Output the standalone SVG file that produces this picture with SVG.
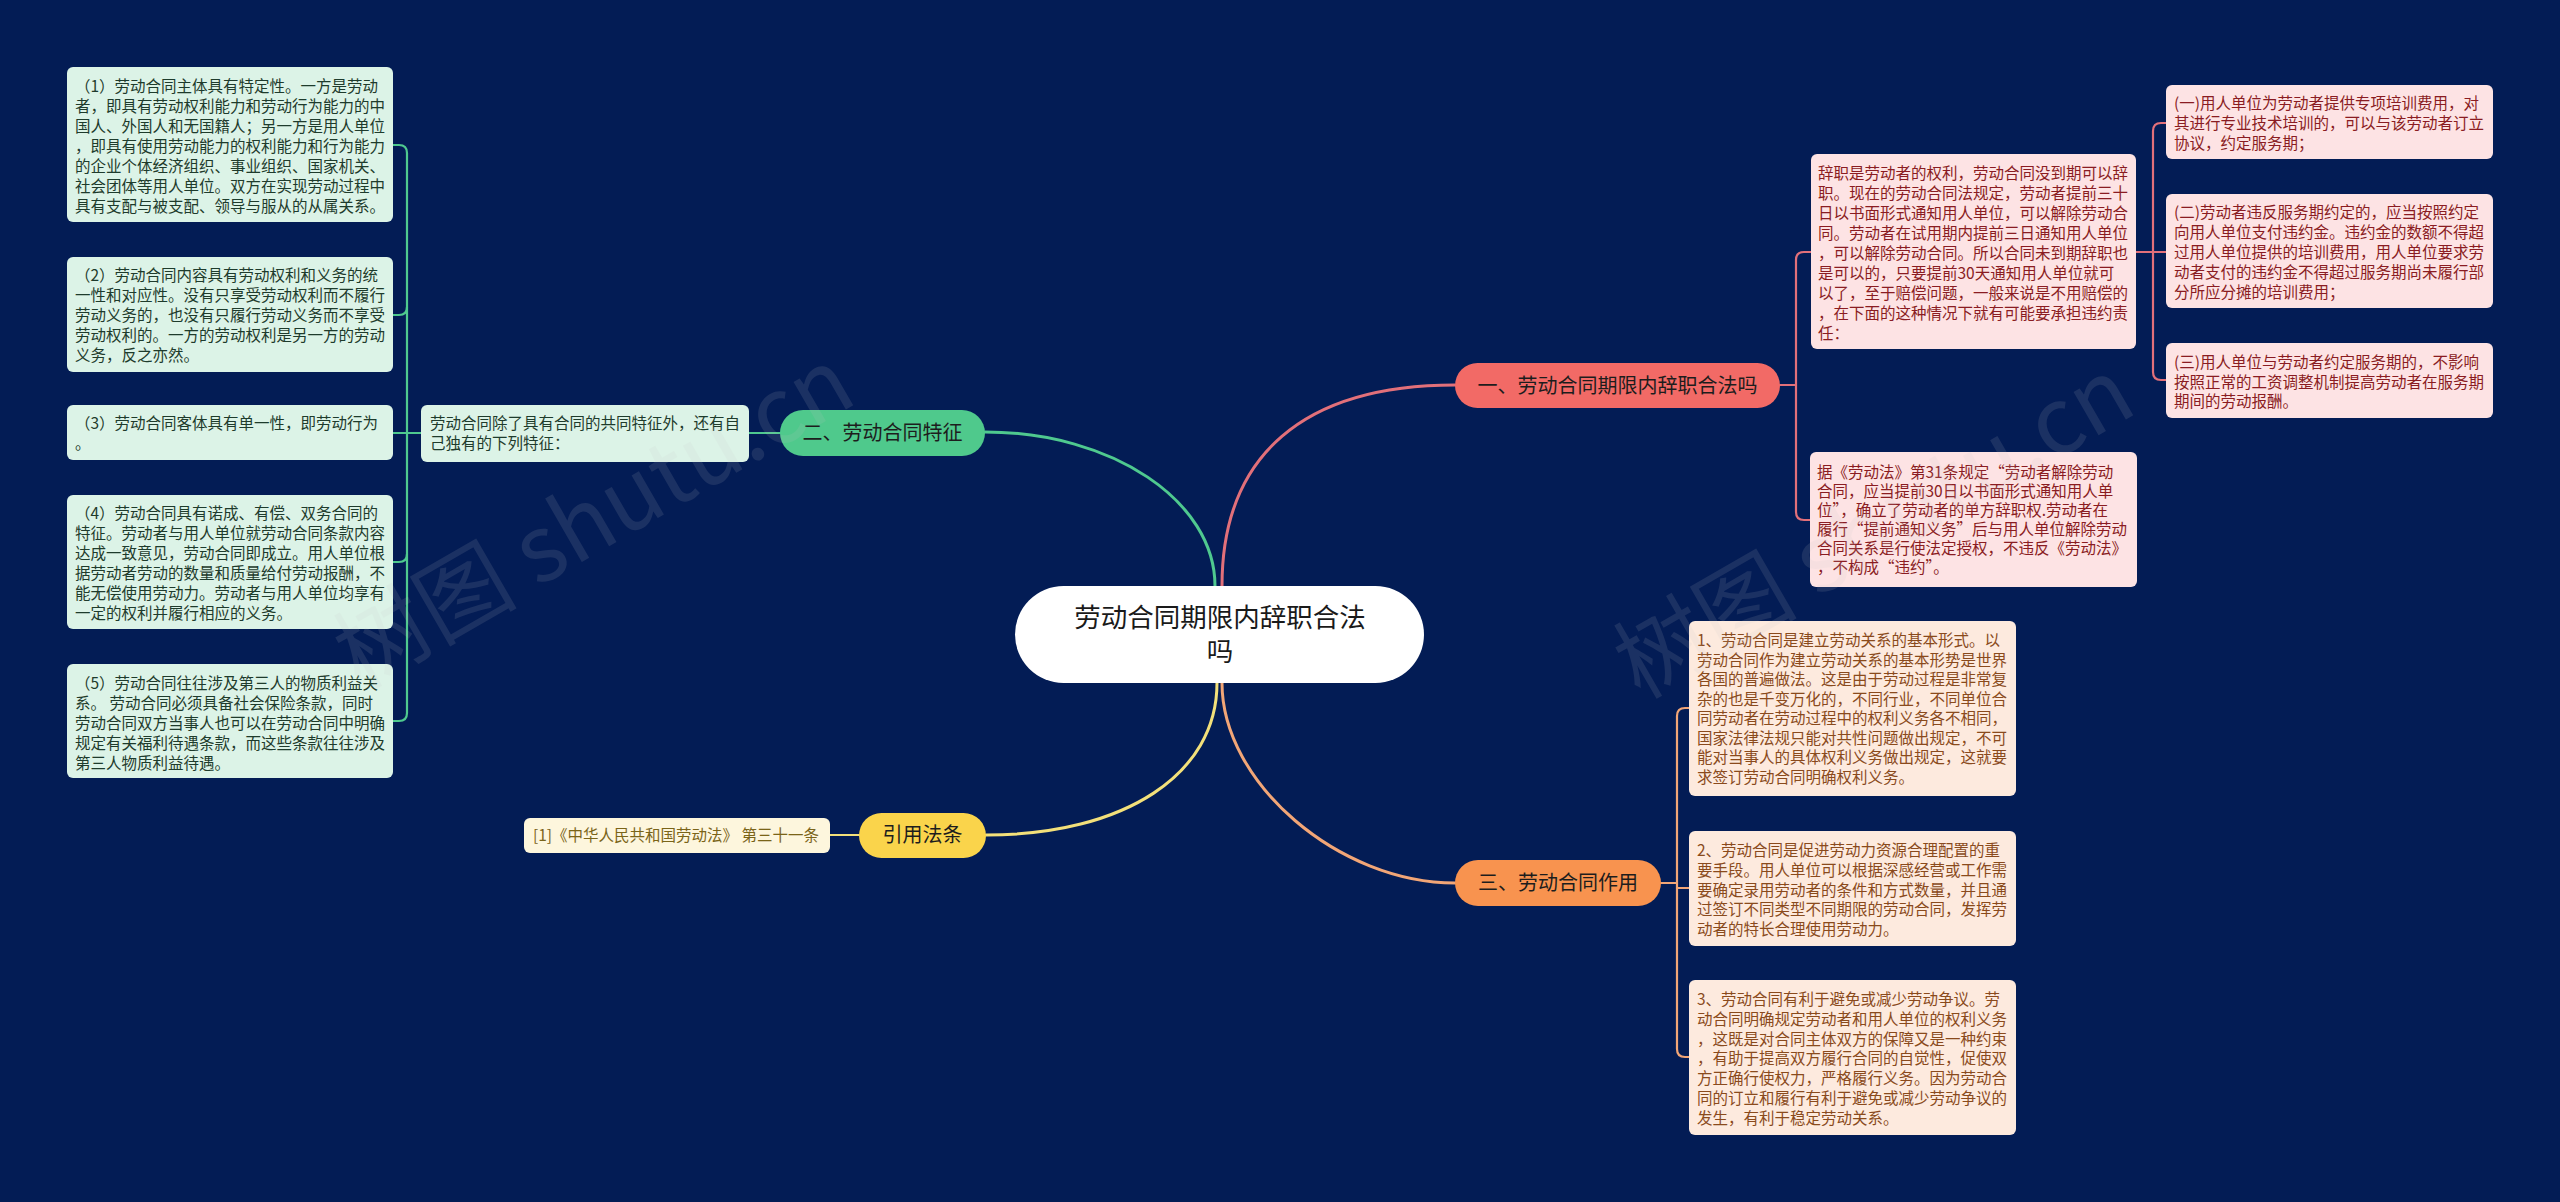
<svg xmlns="http://www.w3.org/2000/svg" width="2560" height="1202" viewBox="0 0 2560 1202">
<style>
text{font-family:"Noto Sans CJK SC","Noto Sans",sans-serif}
.c{fill:none;stroke-linecap:round;stroke-linejoin:round}
.cg{stroke:#4fc98f}
.cr{stroke:#e2707a}
.cy{stroke:#f3e07a}
.co{stroke:#f2a677}
.main{stroke-width:3}
.sub{stroke-width:2.2}
.t{font-size:15.5px}
.tg{fill:#1e3b2c}
.tr{fill:#8a1c22}
.to{fill:#8a4a1c}
.ty{fill:#7a6418}
.bg{fill:#dcf3e7}
.br{fill:#fde3e4}
.bo{fill:#fdeade}
.by{fill:#fdf6dd}
.nt{font-size:20px;fill:#1d1d1d;text-anchor:middle}
.wm{font-size:92px;fill:#c8c8c8;opacity:0.12}
</style>
<rect width="2560" height="1202" fill="#031c55"/>

<g id="connectors">
  <path class="c cg main" d="M 985 432 C 1112 432 1215 501 1215 586 L 1215 634"/>
  <path class="c cr main" d="M 1222 634 L 1222 586 C 1222 455 1304 385 1455 385"/>
  <path class="c cy main" d="M 1217 634 L 1217 683 C 1217 774 1125 835 986 835"/>
  <path class="c co main" d="M 1222 634 L 1222 683 C 1222 783 1339 883 1455 883"/>
  <path class="c cg sub" d="M 749 433 H 780"/>
  <path class="c cg sub" d="M 421 433 H 393"/>
  <path class="c cg sub" d="M 393 145 H 399 Q 407 145 407 153 V 713 Q 407 721 399 721 H 393"/>
  <path class="c cg sub" d="M 407 307 Q 407 315 399 315 H 393"/>
  <path class="c cg sub" d="M 407 554 Q 407 562 399 562 H 393"/>
  <path class="c cr sub" d="M 1780 385 H 1796"/>
  <path class="c cr sub" d="M 1811 252 H 1804 Q 1796 252 1796 260 V 512 Q 1796 520 1804 520 H 1810"/>
  <path class="c cr sub" d="M 2136 252 H 2166"/>
  <path class="c cr sub" d="M 2166 123 H 2161 Q 2153 123 2153 131 V 372 Q 2153 380 2161 380 H 2166"/>
  <path class="c co sub" d="M 1661 883 H 1677"/>
  <path class="c co sub" d="M 1689 708 H 1685 Q 1677 708 1677 716 V 1049 Q 1677 1057 1685 1057 H 1689"/>
  <path class="c co sub" d="M 1677 888 H 1689"/>
  <path class="c cy sub" d="M 830 835 H 859"/>
</g>

<g id="center">
  <rect x="1015" y="586" width="409" height="97" rx="48.5" fill="#ffffff"/>
  <text x="1220" y="626.5" font-size="26.5" fill="#1a1a1a" text-anchor="middle">劳动合同期限内辞职合法</text>
  <text x="1220" y="661" font-size="26.5" fill="#1a1a1a" text-anchor="middle">吗</text>
</g>

<g id="branch-green">
  <rect x="780" y="410" width="205" height="46" rx="23" fill="#4fc98c"/>
  <text class="nt" x="882.5" y="440">二、劳动合同特征</text>
</g>
<g id="green-sub">
  <rect class="bg" x="421" y="405" width="328" height="57" rx="6"/>
  <text class="t tg" x="430" y="429">劳动合同除了具有合同的共同特征外，还有自<tspan x="430" dy="20">己独有的下列特征：</tspan></text>
</g>
<g id="green-1">
  <rect class="bg" x="67" y="67" width="326" height="155" rx="6"/>
  <text class="t tg" x="75" y="92">（1）劳动合同主体具有特定性。一方是劳动<tspan x="75" dy="20">者，即具有劳动权利能力和劳动行为能力的中</tspan><tspan x="75" dy="20">国人、外国人和无国籍人；另一方是用人单位</tspan><tspan x="75" dy="20">，即具有使用劳动能力的权利能力和行为能力</tspan><tspan x="75" dy="20">的企业个体经济组织、事业组织、国家机关、</tspan><tspan x="75" dy="20">社会团体等用人单位。双方在实现劳动过程中</tspan><tspan x="75" dy="20">具有支配与被支配、领导与服从的从属关系。</tspan></text>
</g>
<g id="green-2">
  <rect class="bg" x="67" y="257" width="326" height="115" rx="6"/>
  <text class="t tg" x="75" y="281">（2）劳动合同内容具有劳动权利和义务的统<tspan x="75" dy="20">一性和对应性。没有只享受劳动权利而不履行</tspan><tspan x="75" dy="20">劳动义务的，也没有只履行劳动义务而不享受</tspan><tspan x="75" dy="20">劳动权利的。一方的劳动权利是另一方的劳动</tspan><tspan x="75" dy="20">义务，反之亦然。</tspan></text>
</g>
<g id="green-3">
  <rect class="bg" x="67" y="405" width="326" height="55" rx="6"/>
  <text class="t tg" x="75" y="429">（3）劳动合同客体具有单一性，即劳动行为<tspan x="75" dy="20">。</tspan></text>
</g>
<g id="green-4">
  <rect class="bg" x="67" y="495" width="326" height="134" rx="6"/>
  <text class="t tg" x="75" y="519">（4）劳动合同具有诺成、有偿、双务合同的<tspan x="75" dy="20">特征。劳动者与用人单位就劳动合同条款内容</tspan><tspan x="75" dy="20">达成一致意见，劳动合同即成立。用人单位根</tspan><tspan x="75" dy="20">据劳动者劳动的数量和质量给付劳动报酬，不</tspan><tspan x="75" dy="20">能无偿使用劳动力。劳动者与用人单位均享有</tspan><tspan x="75" dy="20">一定的权利并履行相应的义务。</tspan></text>
</g>
<g id="green-5">
  <rect class="bg" x="67" y="664" width="326" height="114" rx="6"/>
  <text class="t tg" x="75" y="689">（5）劳动合同往往涉及第三人的物质利益关<tspan x="75" dy="20">系。 劳动合同必须具备社会保险条款，同时</tspan><tspan x="75" dy="20">劳动合同双方当事人也可以在劳动合同中明确</tspan><tspan x="75" dy="20">规定有关福利待遇条款，而这些条款往往涉及</tspan><tspan x="75" dy="20">第三人物质利益待遇。</tspan></text>
</g>

<g id="branch-yellow">
  <rect x="859" y="813" width="127" height="45" rx="22.5" fill="#fad44b"/>
  <text class="nt" x="922.5" y="842">引用法条</text>
</g>
<g id="yellow-1">
  <rect class="by" x="524" y="818" width="306" height="35" rx="6"/>
  <text class="t ty" x="533" y="841">[1]《中华人民共和国劳动法》 第三十一条</text>
</g>

<g id="branch-red">
  <rect x="1455" y="363" width="325" height="45" rx="22.5" fill="#f26a66"/>
  <text class="nt" x="1617.5" y="393">一、劳动合同期限内辞职合法吗</text>
</g>
<g id="red-1">
  <rect class="br" x="1811" y="154" width="325" height="195" rx="6"/>
  <text class="t tr" x="1818" y="179">辞职是劳动者的权利，劳动合同没到期可以辞<tspan x="1818" dy="20">职。现在的劳动合同法规定，劳动者提前三十</tspan><tspan x="1818" dy="20">日以书面形式通知用人单位，可以解除劳动合</tspan><tspan x="1818" dy="20">同。劳动者在试用期内提前三日通知用人单位</tspan><tspan x="1818" dy="20">，可以解除劳动合同。所以合同未到期辞职也</tspan><tspan x="1818" dy="20">是可以的，只要提前30天通知用人单位就可</tspan><tspan x="1818" dy="20">以了，至于赔偿问题，一般来说是不用赔偿的</tspan><tspan x="1818" dy="20">，在下面的这种情况下就有可能要承担违约责</tspan><tspan x="1818" dy="20">任：</tspan></text>
</g>
<g id="red-2">
  <rect class="br" x="1810" y="452" width="327" height="135" rx="6"/>
  <text class="t tr" x="1817" y="478">据《劳动法》第31条规定“劳动者解除劳动<tspan x="1817" dy="19">合同，应当提前30日以书面形式通知用人单</tspan><tspan x="1817" dy="19">位”，确立了劳动者的单方辞职权.劳动者在</tspan><tspan x="1817" dy="19">履行“提前通知义务”后与用人单位解除劳动</tspan><tspan x="1817" dy="19">合同关系是行使法定授权，不违反《劳动法》</tspan><tspan x="1817" dy="19">，不构成“违约”。</tspan></text>
</g>
<g id="red-1a">
  <rect class="br" x="2166" y="85" width="327" height="74" rx="6"/>
  <text class="t tr" x="2174" y="109">(一)用人单位为劳动者提供专项培训费用，对<tspan x="2174" dy="20">其进行专业技术培训的，可以与该劳动者订立</tspan><tspan x="2174" dy="20">协议，约定服务期；</tspan></text>
</g>
<g id="red-1b">
  <rect class="br" x="2166" y="194" width="327" height="114" rx="6"/>
  <text class="t tr" x="2174" y="218">(二)劳动者违反服务期约定的，应当按照约定<tspan x="2174" dy="20">向用人单位支付违约金。违约金的数额不得超</tspan><tspan x="2174" dy="20">过用人单位提供的培训费用，用人单位要求劳</tspan><tspan x="2174" dy="20">动者支付的违约金不得超过服务期尚未履行部</tspan><tspan x="2174" dy="20">分所应分摊的培训费用；</tspan></text>
</g>
<g id="red-1c">
  <rect class="br" x="2166" y="343" width="327" height="75" rx="6"/>
  <text class="t tr" x="2174" y="368">(三)用人单位与劳动者约定服务期的，不影响<tspan x="2174" dy="19.5">按照正常的工资调整机制提高劳动者在服务期</tspan><tspan x="2174" dy="19.5">期间的劳动报酬。</tspan></text>
</g>

<g id="branch-orange">
  <rect x="1455" y="860" width="206" height="46" rx="23" fill="#f8934f"/>
  <text class="nt" x="1558" y="890">三、劳动合同作用</text>
</g>
<g id="orange-1">
  <rect class="bo" x="1689" y="621" width="327" height="175" rx="6"/>
  <text class="t to" x="1697" y="646">1、劳动合同是建立劳动关系的基本形式。以<tspan x="1697" dy="19.5">劳动合同作为建立劳动关系的基本形势是世界</tspan><tspan x="1697" dy="19.5">各国的普遍做法。这是由于劳动过程是非常复</tspan><tspan x="1697" dy="19.5">杂的也是千变万化的，不同行业，不同单位合</tspan><tspan x="1697" dy="19.5">同劳动者在劳动过程中的权利义务各不相同，</tspan><tspan x="1697" dy="19.5">国家法律法规只能对共性问题做出规定，不可</tspan><tspan x="1697" dy="19.5">能对当事人的具体权利义务做出规定，这就要</tspan><tspan x="1697" dy="19.5">求签订劳动合同明确权利义务。</tspan></text>
</g>
<g id="orange-2">
  <rect class="bo" x="1689" y="831" width="327" height="115" rx="6"/>
  <text class="t to" x="1697" y="856">2、劳动合同是促进劳动力资源合理配置的重<tspan x="1697" dy="19.75">要手段。用人单位可以根据深感经营或工作需</tspan><tspan x="1697" dy="19.75">要确定录用劳动者的条件和方式数量，并且通</tspan><tspan x="1697" dy="19.75">过签订不同类型不同期限的劳动合同，发挥劳</tspan><tspan x="1697" dy="19.75">动者的特长合理使用劳动力。</tspan></text>
</g>
<g id="orange-3">
  <rect class="bo" x="1689" y="980" width="327" height="155" rx="6"/>
  <text class="t to" x="1697" y="1005">3、劳动合同有利于避免或减少劳动争议。劳<tspan x="1697" dy="19.8">动合同明确规定劳动者和用人单位的权利义务</tspan><tspan x="1697" dy="19.8">，这既是对合同主体双方的保障又是一种约束</tspan><tspan x="1697" dy="19.8">，有助于提高双方履行合同的自觉性，促使双</tspan><tspan x="1697" dy="19.8">方正确行使权力，严格履行义务。因为劳动合</tspan><tspan x="1697" dy="19.8">同的订立和履行有利于避免或减少劳动争议的</tspan><tspan x="1697" dy="19.8">发生，有利于稳定劳动关系。</tspan></text>
</g>

<g id="watermarks">
  <text class="wm" transform="translate(360 690) rotate(-30)">树图 shutu.cn</text>
  <text class="wm" transform="translate(1640 700) rotate(-30)">树图 shutu.cn</text>
</g>
</svg>
